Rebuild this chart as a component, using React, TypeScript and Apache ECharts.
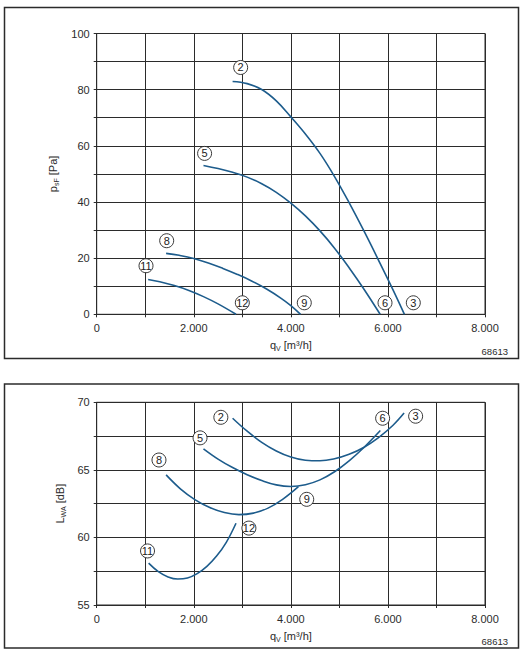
import React, { useEffect, useRef } from "react";
import * as echarts from "echarts";

// Fan characteristic: static pressure p_sF [Pa] over volume flow q_V [m³/h]
const pressure2to3: number[][] = [
  [2800, 82.9], [3100, 82.15], [3400, 80.05], [3700, 76.0], [4000, 70.3],
  [4300, 64.2], [4600, 57.3], [4900, 49.05], [5200, 39.75], [5500, 29.85],
  [5800, 19.5], [6100, 8.9], [6340, 0],
];
const pressure5to6: number[][] = [
  [2200, 53], [2500, 51.9], [2800, 50.55], [3100, 48.85], [3400, 46.5],
  [3700, 43.45], [4000, 39.6], [4300, 35.05], [4600, 29.7], [4900, 23.55],
  [5200, 16.6], [5500, 9.1], [5840, 0],
];
const pressure8to9: number[][] = [
  [1430, 21.7], [1700, 21.0], [2000, 19.9], [2300, 18.3], [2600, 16.35],
  [2900, 14.2], [3200, 11.8], [3500, 9.0], [3800, 5.7], [4000, 3.1], [4200, 0],
];
const pressure11to12: number[][] = [
  [1060, 12.4], [1300, 11.6], [1600, 10.25], [1900, 8.5], [2200, 6.3],
  [2500, 3.7], [2870, 0],
];

// Sound power level L_WA [dB] over volume flow q_V [m³/h]
const sound2to3: number[][] = [
  [2800, 68.82], [3100, 67.86], [3400, 67.04], [3700, 66.4], [4000, 65.95],
  [4300, 65.71], [4600, 65.67], [4900, 65.82], [5200, 66.15], [5500, 66.66],
  [5800, 67.37], [6100, 68.28], [6333, 69.2],
];
const sound5to6: number[][] = [
  [2200, 66.56], [2500, 65.8], [2800, 65.17], [3100, 64.64], [3400, 64.21],
  [3700, 63.89], [4000, 63.77], [4300, 63.9], [4600, 64.26], [4900, 64.86],
  [5200, 65.67], [5500, 66.64], [5844, 67.91],
];
const sound8to9: number[][] = [
  [1430, 64.63], [1730, 63.58], [2030, 62.78], [2330, 62.21], [2630, 61.84],
  [2930, 61.69], [3230, 61.8], [3530, 62.17], [3830, 62.82], [4156, 63.76],
];
const sound11to12: number[][] = [
  [1070, 58.1], [1270, 57.47], [1470, 57.08], [1670, 56.92], [1870, 57.0],
  [2070, 57.32], [2270, 57.86], [2470, 58.62], [2670, 59.64], [2870, 61.05],
];

// Operating point numbers and where their circled tags sit
const pressureTags: [number, number, string][] = [
  [2966, 87.9, "2"], [6523, 4.1, "3"], [2223, 57.3, "5"], [5940, 4.1, "6"],
  [1442, 26.2, "8"], [4277, 4.1, "9"], [1016, 17.3, "11"], [3000, 4.1, "12"],
];
const soundTags: [number, number, string][] = [
  [2558, 68.89, "2"], [6571, 68.97, "3"], [2129, 67.37, "5"], [5891, 68.82, "6"],
  [1283, 65.73, "8"], [4327, 62.82, "9"], [1047, 59.0, "11"], [3136, 60.69, "12"],
];

// Axis ticks and their printed labels
const flowTicks = [0, 2000, 4000, 6000, 8000];
const flowTickLabels = ["0", "2.000", "4.000", "6.000", "8.000"];
const pressureTicks = [0, 20, 40, 60, 80, 100];
const soundTicks = [55, 60, 65, 70];
const drawingNumber = "68613";

const FONT = "'Liberation Sans', Arial, Helvetica, sans-serif";
const INK = "#2b2b2b";
const CURVE = "#1d5c8c";

const richName = {
  m: { fontSize: 11, color: INK, fontFamily: FONT, lineHeight: 14 },
  s: { fontSize: 7, color: INK, fontFamily: FONT, verticalAlign: "bottom" as const, lineHeight: 8 },
};

function flowAxis(gridIndex: number) {
  return {
    type: "value" as const,
    gridIndex,
    min: 0,
    max: 8000,
    interval: 1000,
    name: "{m|q}{s|V}{m| [m³/h]}",
    nameLocation: "middle" as const,
    nameGap: 24,
    nameTextStyle: { rich: richName },
    axisLine: { show: true, lineStyle: { color: INK, width: 1 } },
    axisTick: { show: true, length: 3, lineStyle: { color: INK, width: 1 } },
    axisLabel: {
      color: INK,
      fontSize: 11,
      fontFamily: FONT,
      margin: 8,
      showMinLabel: true,
      showMaxLabel: true,
      formatter: (v: number) => {
        const i = flowTicks.indexOf(v);
        return i >= 0 ? flowTickLabels[i] : "";
      },
    },
    splitLine: { show: true, lineStyle: { color: INK, width: 1 } },
  };
}

function levelAxis(gridIndex: number, min: number, max: number, interval: number, ticks: number[], name: string) {
  return {
    type: "value" as const,
    gridIndex,
    min,
    max,
    interval,
    name,
    nameLocation: "middle" as const,
    nameGap: 27,
    nameTextStyle: { rich: richName },
    axisLine: { show: true, lineStyle: { color: INK, width: 1 } },
    axisTick: { show: true, length: 3, lineStyle: { color: INK, width: 1 } },
    axisLabel: {
      color: INK,
      fontSize: 11,
      fontFamily: FONT,
      margin: 7,
      formatter: (v: number) => (ticks.indexOf(v) >= 0 ? String(v) : ""),
    },
    splitLine: { show: true, lineStyle: { color: INK, width: 1 } },
  };
}

function curve(data: number[][], axisIndex: number) {
  return {
    type: "line" as const,
    xAxisIndex: axisIndex,
    yAxisIndex: axisIndex,
    data,
    smooth: 0.4,
    showSymbol: false,
    silent: true,
    lineStyle: { color: CURVE, width: 1.6 },
    z: 3,
  };
}

function tags(list: [number, number, string][], axisIndex: number) {
  return {
    type: "scatter" as const,
    xAxisIndex: axisIndex,
    yAxisIndex: axisIndex,
    data: list.map(([x, y, n]) => ({ value: [x, y], name: n })),
    symbol: "circle",
    symbolSize: 14,
    silent: true,
    itemStyle: { color: "#fff", borderColor: "#222", borderWidth: 0.9, opacity: 1 },
    label: {
      show: true,
      position: "inside" as const,
      formatter: "{b}",
      color: "#222",
      fontFamily: FONT,
      fontSize: 11,
    },
    z: 5,
  };
}

export default function App() {
  const ref = useRef<HTMLDivElement>(null);

  useEffect(() => {
    if (!ref.current) return;
    const chart = echarts.init(ref.current, undefined, { renderer: "svg" });
    chart.setOption({
      animation: false,
      backgroundColor: "#fff",
      textStyle: { fontFamily: FONT },
      grid: [
        { left: 96.7, top: 33.5, width: 388.3, height: 280.8, show: true, borderColor: INK, borderWidth: 1, containLabel: false },
        { left: 96.7, top: 402.3, width: 388.3, height: 202.7, show: true, borderColor: INK, borderWidth: 1, containLabel: false },
      ],
      xAxis: [flowAxis(0), flowAxis(1)],
      yAxis: [
        levelAxis(0, 0, 100, 10, pressureTicks, "{m|p}{s|sF}{m| [Pa]}"),
        levelAxis(1, 55, 70, 2.5, soundTicks, "{m|L}{s|WA}{m| [dB]}"),
      ],
      graphic: [
        { type: "rect", shape: { x: 4.5, y: 7.5, width: 514, height: 351 }, style: { fill: "none", stroke: INK, lineWidth: 1.5 }, silent: true },
        { type: "rect", shape: { x: 4.5, y: 384, width: 514, height: 264 }, style: { fill: "none", stroke: INK, lineWidth: 1.5 }, silent: true },
        { type: "text", right: 20, top: 346, style: { text: drawingNumber, fill: INK, fontSize: 9.5, fontFamily: FONT }, silent: true },
        { type: "text", right: 20, top: 636, style: { text: drawingNumber, fill: INK, fontSize: 9.5, fontFamily: FONT }, silent: true },
      ],
      series: [
        curve(pressure2to3, 0),
        curve(pressure5to6, 0),
        curve(pressure8to9, 0),
        curve(pressure11to12, 0),
        tags(pressureTags, 0),
        curve(sound2to3, 1),
        curve(sound5to6, 1),
        curve(sound8to9, 1),
        curve(sound11to12, 1),
        tags(soundTags, 1),
      ],
    });
    return () => chart.dispose();
  }, []);

  return (
    <div
      ref={ref}
      style={{ position: "fixed", left: 0, top: 0, width: 528, height: 656, background: "#fff" }}
    />
  );
}
